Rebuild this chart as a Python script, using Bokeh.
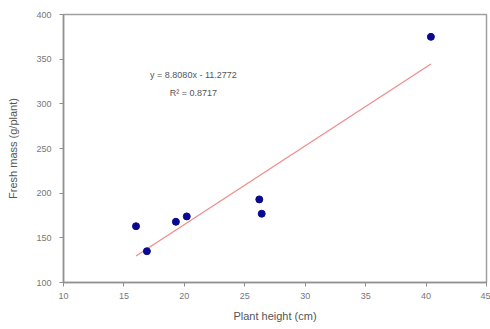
from bokeh.plotting import figure
from bokeh.models import Label, Range1d, FixedTicker
from bokeh.embed import file_html
from bokeh.resources import INLINE

# Data
plant_height = [16.0, 16.9, 19.3, 20.2, 26.2, 26.4, 40.4]
fresh_mass = [163, 135, 168, 174, 193, 177, 375]
slope = 8.8080
intercept = -11.2772
r_squared = 0.8717
x_ticks = [10, 15, 20, 25, 30, 35, 40, 45]
y_ticks = [100, 150, 200, 250, 300, 350, 400]

FONT = "Liberation Sans"
GRAY = "#8a8a8a"

p = figure(width=490, height=329, output_backend="svg", toolbar_location=None,
           x_range=Range1d(10, 45), y_range=Range1d(100, 400),
           min_border_left=63, min_border_right=4, min_border_top=14, min_border_bottom=47)
p.background_fill_color = "white"
p.border_fill_color = "white"
p.outline_line_color = "#a0a0a0"
p.outline_line_width = 1.5
p.grid.visible = False

for ax in (p.xaxis[0], p.yaxis[0]):
    ax.axis_line_color = "#909090"
    ax.axis_line_width = 1.5
    ax.major_tick_line_color = "#909090"
    ax.major_tick_out = 4
    ax.major_tick_in = 0
    ax.minor_tick_line_color = None
    ax.major_label_text_font = FONT
    ax.major_label_text_font_size = "9px"
    ax.major_label_text_color = "#777777"
    ax.axis_label_text_font = FONT
    ax.axis_label_text_font_style = "normal"
    ax.axis_label_text_font_size = "11px"
    ax.axis_label_text_color = "#555555"

p.xaxis.ticker = FixedTicker(ticks=x_ticks)
p.yaxis.ticker = FixedTicker(ticks=y_ticks)
p.xaxis.axis_label = "Plant height (cm)"
p.yaxis.axis_label = "Fresh mass (g/plant)"
p.xaxis.major_label_standoff = 6
p.yaxis.major_label_standoff = 8
p.xaxis.axis_label_standoff = 8
p.yaxis.axis_label_standoff = 14

# regression trend line over data range
xs = [min(plant_height), max(plant_height)]
ys = [slope * x + intercept for x in xs]
p.line(xs, ys, line_color="#f08a8a", line_width=1.2)

p.scatter(plant_height, fresh_mass, size=7, fill_color="#0a0a90", line_color="#0a0a90")

eq = Label(x=20.75, y=332, text="y = %.4fx - %.4f" % (slope, -intercept),
           text_align="center", text_baseline="middle",
           text_font=FONT, text_font_size="9px", text_color="#555555")
r2 = Label(x=20.75, y=312, text="R² = %.4f" % r_squared,
           text_align="center", text_baseline="middle",
           text_font=FONT, text_font_size="9px", text_color="#555555")
p.add_layout(eq)
p.add_layout(r2)

open("out.html", "w").write(file_html(p, INLINE))
